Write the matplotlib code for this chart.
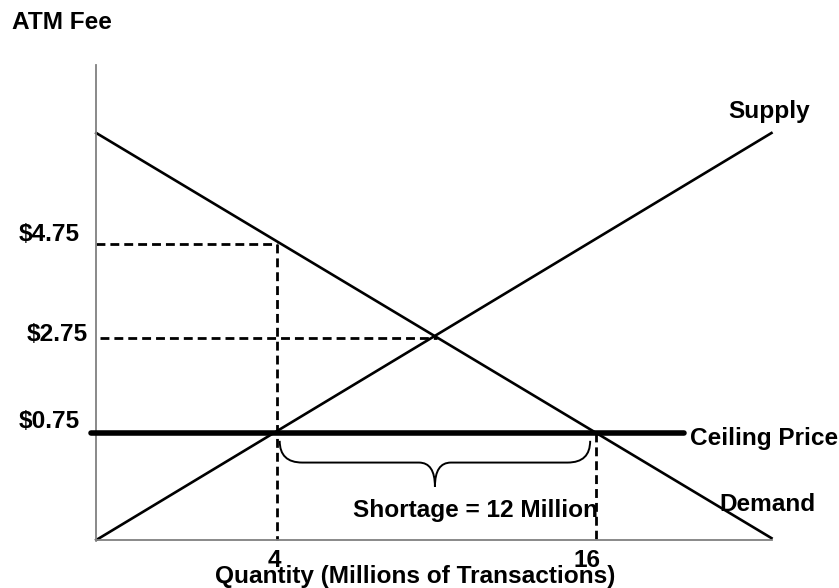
import matplotlib
matplotlib.use("Agg")
import matplotlib.pyplot as plt
from matplotlib.path import Path
from matplotlib.patches import PathPatch

# (quantity in millions, price in $)
supply_q = [-2.8, 22.6]
supply_p = [-1.52, 7.1]
demand_q = [-2.8, 22.6]
demand_p = [7.1, -1.48]
ceiling_q = [-3.0, 19.3]
ceiling_p = 0.75
eq_q, eq_p = 10, 2.75
qd, qs = 4, 16          # quantity supplied / demanded at the ceiling
price_ticks = [4.75, 2.75, 0.75]
price_labels = ["$4.75", "$2.75", "$0.75"]
qty_ticks = [4, 16]
qty_labels = ["4", "16"]

W, H = 839, 588
plt.rcParams["font.family"] = ["Liberation Sans", "DejaVu Sans"]
plt.rcParams["font.weight"] = "bold"
fs = 17.6

fig = plt.figure(figsize=(W / 100, H / 100), dpi=100)
ax = fig.add_axes([96 / W, 48 / H, 676 / W, 475 / H])
ax.set_xlim(-2.81, 22.62)
ax.set_ylim(-1.52, 8.54)
for s in ["top", "right"]:
    ax.spines[s].set_visible(False)
for s in ["left", "bottom"]:
    ax.spines[s].set_color("#808080")
    ax.spines[s].set_linewidth(1.3)
ax.set_xticks([])
ax.set_yticks([])

def px(x, y):
    return x / W, 1 - y / H

ax.plot(supply_q, supply_p, color="black", lw=1.9, clip_on=False)
ax.plot(demand_q, demand_p, color="black", lw=1.9, clip_on=False)
ax.plot(ceiling_q, [ceiling_p, ceiling_p], color="black", lw=4,
        solid_capstyle="round", clip_on=False, zorder=3)

dash = dict(color="black", lw=2, dashes=(3.2, 1.8), clip_on=False)
x0, y0 = ax.get_xlim()[0], ax.get_ylim()[0]
ax.plot([x0, qd], [price_ticks[0], price_ticks[0]], **dash)
ax.plot([qd, qd], [price_ticks[0], y0], **dash)
ax.plot([-2.66, eq_q], [eq_p, eq_p], **dash)
ax.plot([qs, qs], [ceiling_p, y0], **dash)

# curly brace under the shortage
bl, br = 4.1, 15.78
xc = (bl + br) / 2
ytop, ymid, ytip = 0.58, 0.12, -0.39
r, r2 = 0.85, 0.6
verts = [(bl, ytop), (bl, ymid), (bl + r, ymid),
         (xc - r2, ymid), (xc, ymid), (xc, ytip),
         (xc, ymid), (xc + r2, ymid),
         (br - r, ymid), (br, ymid), (br, ytop)]
codes = [Path.MOVETO, Path.CURVE3, Path.CURVE3,
         Path.LINETO, Path.CURVE3, Path.CURVE3,
         Path.CURVE3, Path.CURVE3,
         Path.LINETO, Path.CURVE3, Path.CURVE3]
ax.add_patch(PathPatch(Path(verts, codes), fill=False, lw=1.4, color="black"))

# tick labels
y_off = [(-16, 9), (-8, 4), (-16, 11)]
for p, lab, (dx, dy) in zip(price_ticks, price_labels, y_off):
    ax.annotate(lab, xy=(0, p), xycoords=("axes fraction", "data"),
                xytext=(dx, dy), textcoords="offset pixels",
                ha="right", va="center", fontsize=fs, fontweight="bold")
x_off = [-3, -9]
for q, lab, dx in zip(qty_ticks, qty_labels, x_off):
    ax.annotate(lab, xy=(q, 0), xycoords=("data", "axes fraction"),
                xytext=(dx, -9), textcoords="offset pixels",
                ha="center", va="top", fontsize=fs, fontweight="bold")

txt = dict(fontsize=fs, fontweight="bold", va="baseline", ha="left")
fig.text(*px(12, 29), "ATM Fee", **txt)
fig.text(*px(728, 118), "Supply", **txt)
fig.text(*px(690, 445), "Ceiling Price", **txt)
fig.text(*px(719, 511), "Demand", **txt)
fig.text(*px(353, 517), "Shortage = 12 Million", **txt)
fig.text(*px(215, 583), "Quantity (Millions of Transactions)", **txt)

fig.savefig("out.png", dpi=100)
